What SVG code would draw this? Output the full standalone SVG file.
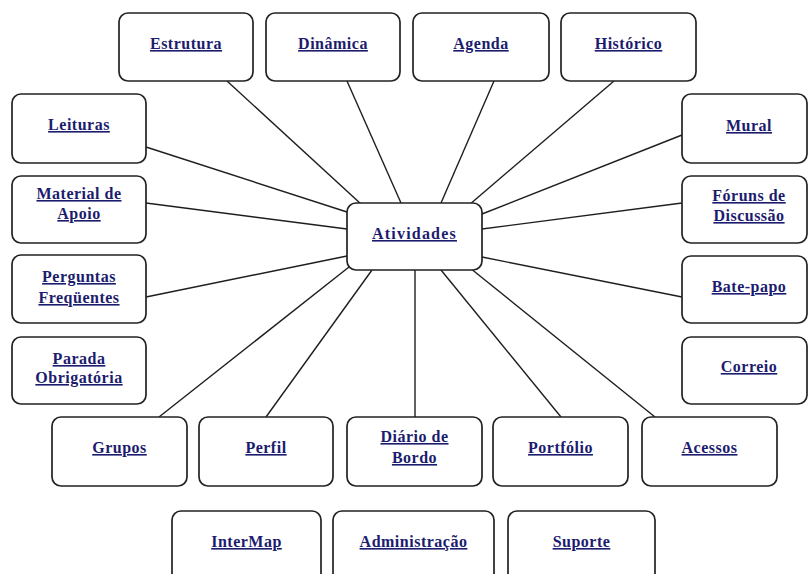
<svg xmlns="http://www.w3.org/2000/svg" width="808" height="574" viewBox="0 0 808 574">
  <style>
    .box { fill: #ffffff; stroke: #222222; stroke-width: 1.7; }
    .lbl { font-family: "Liberation Serif", "Times New Roman", serif; font-weight: bold; font-size: 16px; fill: #1c1c6e; text-anchor: middle; text-decoration: underline; letter-spacing: 0.5px; }
    .conn line { stroke: #1e1e1e; stroke-width: 1.4; }
  </style>
  <rect width="808" height="574" fill="#ffffff"/>

  <!-- connectors from the hub to every node -->
  <g id="connectors" class="conn">
    <line x1="227" y1="81" x2="361" y2="204"/>
    <line x1="347" y1="81" x2="401" y2="203"/>
    <line x1="494" y1="81" x2="441" y2="203"/>
    <line x1="614" y1="81" x2="469" y2="205"/>
    <line x1="146" y1="147" x2="347" y2="212"/>
    <line x1="146" y1="203" x2="347" y2="229"/>
    <line x1="146" y1="297" x2="347" y2="256"/>
    <line x1="682" y1="135" x2="482" y2="214"/>
    <line x1="682" y1="203" x2="482" y2="229"/>
    <line x1="482" y1="257" x2="682" y2="297"/>
    <line x1="349" y1="267" x2="159" y2="417"/>
    <line x1="372" y1="270" x2="266" y2="417"/>
    <line x1="415" y1="270" x2="415" y2="417"/>
    <line x1="441" y1="270" x2="561" y2="417"/>
    <line x1="470" y1="268" x2="655" y2="417"/>
  </g>

  <!-- hub -->
  <g id="atividades">
    <rect class="box" x="347" y="203" width="135" height="67" rx="9"/>
    <text class="lbl" x="414.5" y="239" style="letter-spacing:1.2px">Atividades</text>
  </g>

  <!-- top row -->
  <g id="estrutura">
    <rect class="box" x="119" y="13" width="134" height="68" rx="9"/>
    <text class="lbl" x="186" y="49">Estrutura</text>
  </g>
  <g id="dinamica">
    <rect class="box" x="266" y="13" width="134" height="68" rx="9"/>
    <text class="lbl" x="333" y="49">Dinâmica</text>
  </g>
  <g id="agenda">
    <rect class="box" x="413" y="13" width="136" height="68" rx="9"/>
    <text class="lbl" x="481" y="49">Agenda</text>
  </g>
  <g id="historico">
    <rect class="box" x="561" y="13" width="135" height="68" rx="9"/>
    <text class="lbl" x="628.5" y="49">Histórico</text>
  </g>

  <!-- left column -->
  <g id="leituras">
    <rect class="box" x="12" y="94" width="134" height="69" rx="9"/>
    <text class="lbl" x="79" y="130">Leituras</text>
  </g>
  <g id="material-de-apoio">
    <rect class="box" x="12" y="176" width="134" height="67" rx="9"/>
    <text class="lbl" x="79" y="199">Material de</text>
    <text class="lbl" x="79" y="219">Apoio</text>
  </g>
  <g id="perguntas-frequentes">
    <rect class="box" x="12" y="255" width="134" height="68" rx="9"/>
    <text class="lbl" x="79" y="282">Perguntas</text>
    <text class="lbl" x="79" y="303">Freqüentes</text>
  </g>
  <g id="parada-obrigatoria">
    <rect class="box" x="12" y="337" width="134" height="67" rx="9"/>
    <text class="lbl" x="79" y="364">Parada</text>
    <text class="lbl" x="79" y="383">Obrigatória</text>
  </g>

  <!-- right column -->
  <g id="mural">
    <rect class="box" x="682" y="94" width="125" height="69" rx="9"/>
    <text class="lbl" x="749" y="131">Mural</text>
  </g>
  <g id="foruns-de-discussao">
    <rect class="box" x="682" y="176" width="125" height="67" rx="9"/>
    <text class="lbl" x="749" y="201">Fóruns de</text>
    <text class="lbl" x="749" y="221">Discussão</text>
  </g>
  <g id="bate-papo">
    <rect class="box" x="682" y="256" width="125" height="67" rx="9"/>
    <text class="lbl" x="749" y="292">Bate-papo</text>
  </g>
  <g id="correio">
    <rect class="box" x="682" y="337" width="125" height="67" rx="9"/>
    <text class="lbl" x="749" y="372">Correio</text>
  </g>

  <!-- bottom row -->
  <g id="grupos">
    <rect class="box" x="52" y="417" width="135" height="69" rx="9"/>
    <text class="lbl" x="119.5" y="453">Grupos</text>
  </g>
  <g id="perfil">
    <rect class="box" x="199" y="417" width="134" height="69" rx="9"/>
    <text class="lbl" x="266" y="453">Perfil</text>
  </g>
  <g id="diario-de-bordo">
    <rect class="box" x="347" y="417" width="135" height="69" rx="9"/>
    <text class="lbl" x="414.5" y="442">Diário de</text>
    <text class="lbl" x="414.5" y="463">Bordo</text>
  </g>
  <g id="portfolio">
    <rect class="box" x="493" y="417" width="135" height="69" rx="9"/>
    <text class="lbl" x="560.5" y="453">Portfólio</text>
  </g>
  <g id="acessos">
    <rect class="box" x="642" y="417" width="135" height="69" rx="9"/>
    <text class="lbl" x="709.5" y="453">Acessos</text>
  </g>

  <!-- last row, running off the lower edge -->
  <g id="intermap">
    <rect class="box" x="172" y="511" width="149" height="80" rx="9"/>
    <text class="lbl" x="246.5" y="547">InterMap</text>
  </g>
  <g id="administracao">
    <rect class="box" x="333" y="511" width="161" height="80" rx="9"/>
    <text class="lbl" x="413.5" y="547">Administração</text>
  </g>
  <g id="suporte">
    <rect class="box" x="508" y="511" width="147" height="80" rx="9"/>
    <text class="lbl" x="581.5" y="547">Suporte</text>
  </g>
</svg>
